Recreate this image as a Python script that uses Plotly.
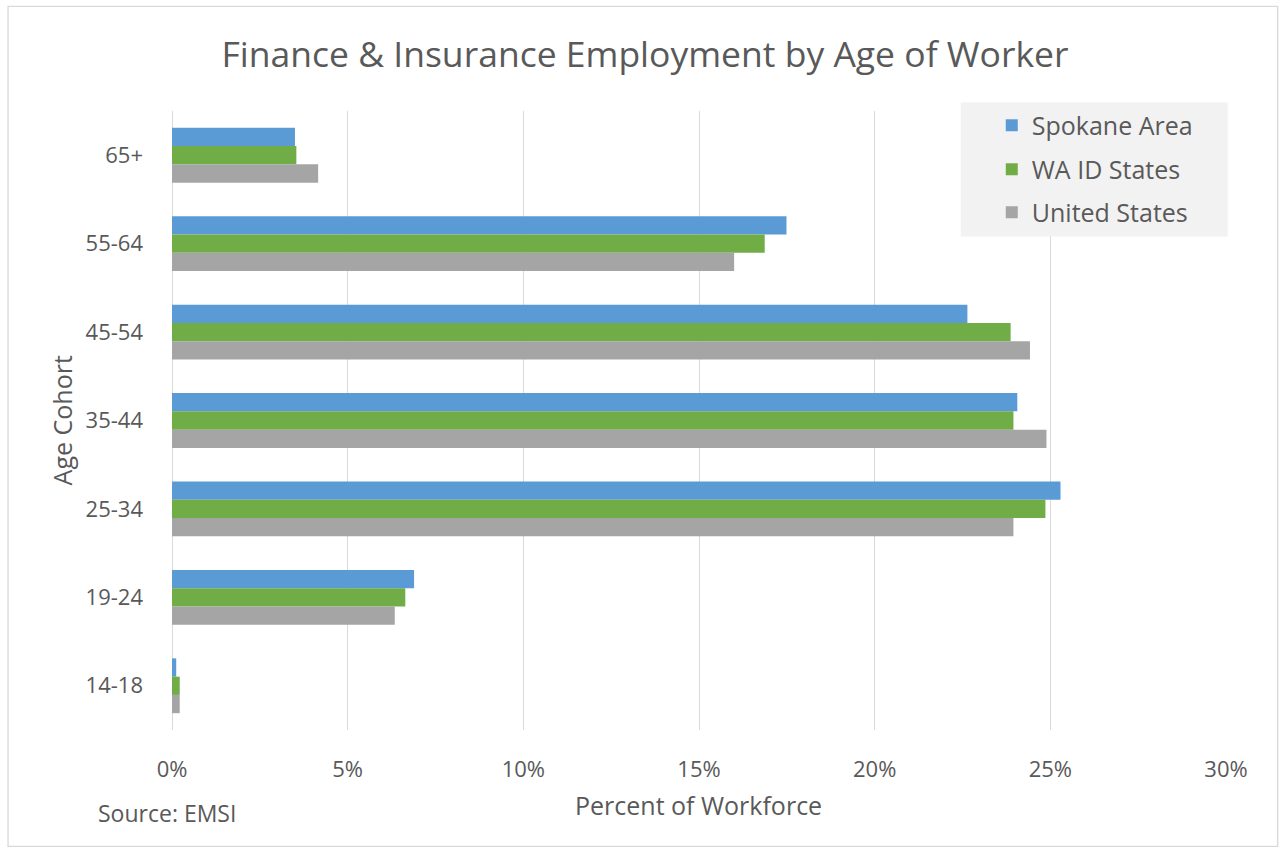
import plotly.graph_objects as go

# Age cohorts, listed top to bottom
cohorts = ["65+", "55-64", "45-54", "35-44", "25-34", "19-24", "14-18"]

# Share of finance & insurance workforce (%) by cohort
spokane_area = [3.50, 17.49, 22.64, 24.06, 25.29, 6.89, 0.12]
wa_id_states = [3.54, 16.87, 23.87, 23.95, 24.86, 6.64, 0.22]
united_states = [4.16, 16.00, 24.42, 24.89, 23.95, 6.34, 0.22]

series_names = ["Spokane Area", "WA ID States", "United States"]
series_colors = ["#5b9bd5", "#70ad47", "#a5a5a5"]
x_ticks = [0, 5, 10, 15, 20, 25, 30]
x_tick_labels = ["0%", "5%", "10%", "15%", "20%", "25%", "30%"]

W, H = 1279, 852
L, R, T, B = 172, 52.7, 110.6, 122.3
PW, PH = W - L - R, H - T - B

FONT = "Open Sans"
TXT = "#595959"


def px_x(x):
    return (x - L) / PW


def px_y(y):
    return (H - B - y) / PH


fig = go.Figure()
legend_ids = ["legend", "legend2", "legend3"]
legend_rows = [125, 169, 212]
for vals, name, color, lid in zip(
    [spokane_area, wa_id_states, united_states], series_names, series_colors, legend_ids
):
    fig.add_trace(
        go.Bar(
            y=cohorts,
            x=vals,
            name=name,
            orientation="h",
            marker=dict(color=color, line=dict(width=0)),
            legend=lid,
        )
    )

layout_legends = {}
for lid, row in zip(legend_ids, legend_rows):
    layout_legends[lid] = dict(
        x=px_x(992),
        y=px_y(row),
        xanchor="left",
        yanchor="middle",
        bgcolor="rgba(0,0,0,0)",
        borderwidth=0,
        font=dict(family=FONT, size=25, color=TXT),
    )

fig.update_layout(
    width=W,
    height=H,
    margin=dict(l=L, r=R, t=T, b=B),
    paper_bgcolor="white",
    plot_bgcolor="white",
    barmode="group",
    bargap=0.38,
    bargroupgap=0,
    showlegend=True,
    font=dict(family=FONT, color=TXT),
    title=dict(
        text="Finance & Insurance Employment by Age of Worker",
        x=645 / W,
        xanchor="center",
        y=1 - 55 / H,
        yanchor="middle",
        font=dict(family=FONT, size=35.5, color=TXT),
    ),
    xaxis=dict(
        range=[0, 30],
        tickvals=x_ticks,
        ticktext=x_tick_labels,
        showgrid=True,
        gridcolor="#d9d9d9",
        gridwidth=1,
        zeroline=True,
        zerolinecolor="#d9d9d9",
        zerolinewidth=1,
        showline=False,
        ticks="",
        tickfont=dict(family=FONT, size=22, color=TXT),
        ticklabelstandoff=24,
        fixedrange=True,
    ),
    yaxis=dict(
        categoryorder="array",
        categoryarray=cohorts,
        autorange="reversed",
        showgrid=False,
        zeroline=False,
        showline=False,
        ticks="",
        tickfont=dict(family=FONT, size=22, color=TXT),
        ticklabelstandoff=28,
        fixedrange=True,
    ),
    shapes=[
        # legend panel
        dict(
            type="rect",
            xref="paper",
            yref="paper",
            x0=px_x(961),
            x1=px_x(1228),
            y0=px_y(102),
            y1=px_y(236),
            fillcolor="#f2f2f2",
            line=dict(width=0),
            layer="above",
        ),
        # outer chart border
        dict(
            type="rect",
            xref="paper",
            yref="paper",
            x0=px_x(8),
            x1=px_x(1278),
            y0=px_y(6),
            y1=px_y(846),
            fillcolor="rgba(0,0,0,0)",
            line=dict(color="#d9d9d9", width=1.3),
            layer="below",
        ),
    ],
    annotations=[
        dict(
            text="Age Cohort",
            xref="paper",
            yref="paper",
            x=px_x(62),
            y=px_y(420),
            xanchor="center",
            yanchor="middle",
            textangle=-90,
            showarrow=False,
            font=dict(family=FONT, size=25, color=TXT),
        ),
        dict(
            text="Percent of Workforce",
            xref="paper",
            yref="paper",
            x=px_x(699),
            y=px_y(805),
            xanchor="center",
            yanchor="middle",
            showarrow=False,
            font=dict(family=FONT, size=25, color=TXT),
        ),
        dict(
            text="Source: EMSI",
            xref="paper",
            yref="paper",
            x=px_x(96),
            y=px_y(813),
            xanchor="left",
            yanchor="middle",
            showarrow=False,
            font=dict(family=FONT, size=23, color=TXT),
        ),
    ],
    **layout_legends,
)

fig.write_html("out.html")
